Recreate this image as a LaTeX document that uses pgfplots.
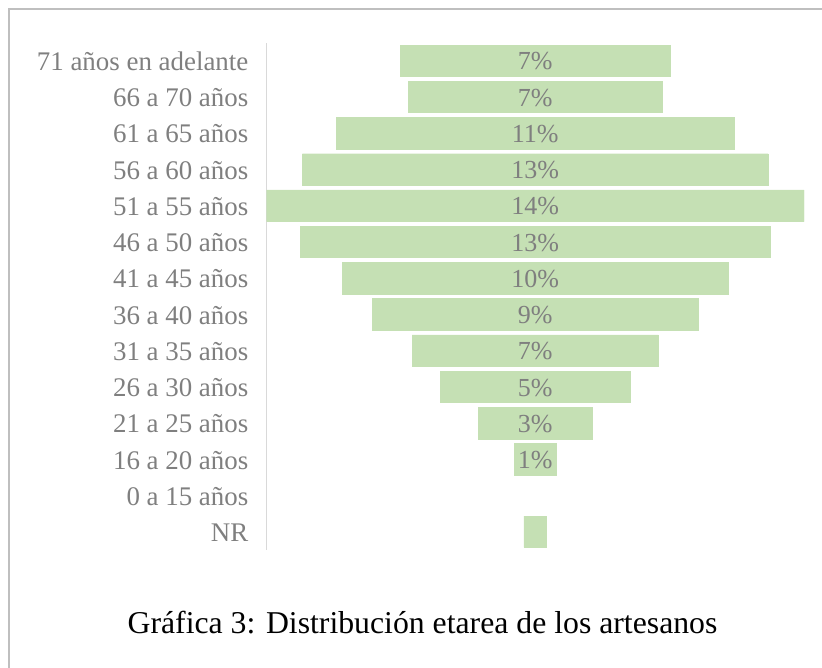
\documentclass[border=0pt]{standalone}
\usepackage{pgfplots}
\pgfplotsset{compat=1.18}
\usepackage{pgfplotstable}
\usepackage{fontspec}
\setmainfont{Liberation Serif}
\definecolor{barc}{HTML}{C5E0B4}
\definecolor{labc}{HTML}{7F7F7F}
\definecolor{axc}{HTML}{D9D9D9}
\definecolor{framec}{HTML}{BFBFBF}

\pgfplotstableread{
y v
13 7.25
12 6.82
11 10.69
10 12.53
9 14.46
8 12.65
7 10.39
6 8.76
5 6.62
4 5.11
3 3.07
2 1.13
0 0.61
}\bardata

\pgfplotstableread{
y p
13 7
12 7
11 11
10 13
9 14
8 13
7 10
6 9
5 7
4 5
3 3
2 1
}\labdata

\begin{document}
\begin{tikzpicture}
\path[use as bounding box] (0pt,0pt) rectangle (822pt,667pt);
\draw[framec, line width=2pt] (9pt,-2pt) -- (9pt,658pt) -- (824pt,658pt);
\begin{axis}[
  at={(266.5pt,117.1pt)}, anchor=south west,
  scale only axis, width=537.5pt, height=507.3pt,
  xmin=-7.23, xmax=7.23, ymin=-0.5, ymax=13.5,
  axis x line=none, axis y line*=left,
  y axis line style={-, draw=axc, line width=1.3pt},
  ytick={0,...,13},
  yticklabels={NR, 0 a 15 años, 16 a 20 años, 21 a 25 años, 26 a 30 años, 31 a 35 años, 36 a 40 años, 41 a 45 años, 46 a 50 años, 51 a 55 años, 56 a 60 años, 61 a 65 años, 66 a 70 años, 71 años en adelante},
  major tick length=0pt,
  yticklabel style={font=\fontsize{26.9}{30}\selectfont, text=labc, inner sep=0pt, xshift=-18pt, yshift=-0.8pt},
]
\addplot[xbar, bar shift=0pt, bar width=0.866, fill=barc, draw=barc, line width=0.4pt] table[x expr=\thisrow{v}/2, y=y] {\bardata};
\addplot[xbar, bar shift=0pt, bar width=0.866, fill=barc, draw=barc, line width=0.4pt] table[x expr=-\thisrow{v}/2, y=y] {\bardata};
\addplot[draw=none, mark=none, point meta=explicit symbolic,
  nodes near coords={\pgfplotspointmeta\%},
  every node near coord/.append style={anchor=center, inner sep=0pt, yshift=-0.8pt, font=\fontsize{26}{30}\selectfont, text=labc}]
  table[x expr=0, y=y, meta=p] {\labdata};
\end{axis}
\node[anchor=base, font=\fontsize{31.75}{36}\selectfont, text=black] at (422.5pt,33.7pt) {Gráfica 3: Distribución etarea de los artesanos};
\end{tikzpicture}
\end{document}
